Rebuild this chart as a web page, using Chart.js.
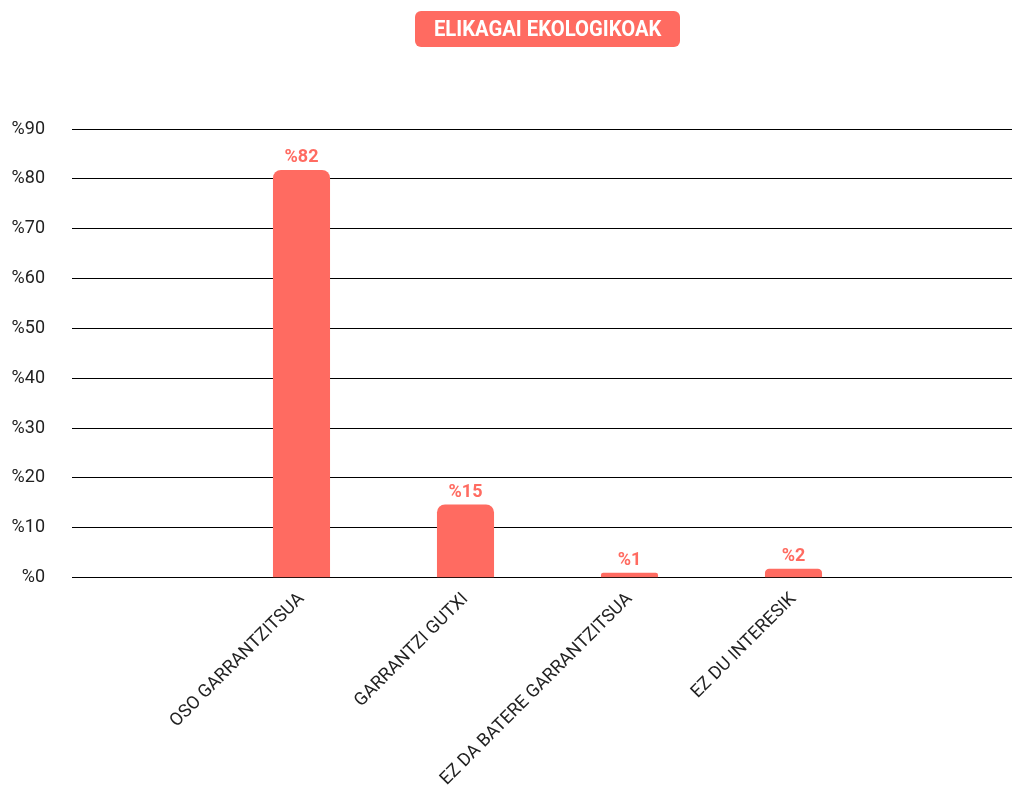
<!DOCTYPE html>
<html>
<head>
<meta charset="utf-8">
<script src="https://cdn.jsdelivr.net/npm/chart.js@4/dist/chart.umd.min.js"></script>
<style>
  body { margin: 0; overflow: hidden; background: #fff; font-family: Roboto, sans-serif; }
  #wrap { position: relative; width: 1012px; height: 793px; }
  #title {
    position: absolute; left: 415px; top: 11px; width: 265px; height: 36px;
    background: #ff6b61; border-radius: 6px; color: #fff;
    font: bold 22px Roboto, sans-serif; line-height: 36px; text-align: center;
  }
  #title span { display: inline-block; transform: scaleX(0.92); white-space: nowrap; }
</style>
</head>
<body>
<div id="wrap">
  <div id="title"><span>ELIKAGAI EKOLOGIKOAK</span></div>
  <canvas id="ecoChart"></canvas>
</div>
<script>
// answers (percent of respondents)
const categories = ['OSO GARRANTZITSUA', 'GARRANTZI GUTXI', 'EZ DA BATERE GARRANTZITSUA', 'EZ DU INTERESIK'];
const values = [81.8, 14.7, 1.0, 1.8];
const yTicks = [0, 10, 20, 30, 40, 50, 60, 70, 80, 90];

const barColor = '#ff6b61';

// value labels above the bars
const valueLabels = {
  id: 'valueLabels',
  afterDatasetsDraw(chart) {
    const ctx = chart.ctx;
    const meta = chart.getDatasetMeta(0);
    ctx.save();
    ctx.fillStyle = barColor;
    ctx.font = 'bold 18px Roboto';
    ctx.textAlign = 'center';
    ctx.textBaseline = 'bottom';
    meta.data.forEach((bar, i) => {
      ctx.fillText('%' + Math.round(values[i]), bar.x, bar.y - 3);
    });
    ctx.restore();
  }
};

const ctx = document.getElementById('ecoChart').getContext('2d');

new Chart(ctx, {
  type: 'bar',
  data: {
    datasets: [{
      data: values.map((v, i) => ({ x: i + 1, y: v })),
      backgroundColor: barColor,
      borderRadius: 8,
      borderSkipped: 'bottom',
      categoryPercentage: 0.8,
      barPercentage: 0.435
    }]
  },
  options: {
    responsive: true,
    maintainAspectRatio: false,
    animation: false,
    layout: { padding: { top: 129, left: 10, right: 0, bottom: 0 } },
    plugins: {
      legend: { display: false },
      title: { display: false },
      tooltip: { enabled: false }
    },
    scales: {
      x: {
        type: 'linear',
        offset: false,
        min: -0.3994,
        max: 5.3323,
        grid: { display: false },
        border: { display: false },
        afterBuildTicks: (scale) => {
          scale.ticks = categories.map((c, i) => ({ value: i + 1 }));
        },
        afterFit: (scale) => {
          // labels sit well inside the axis, no side padding needed
          scale.paddingLeft = 0;
          scale.paddingRight = 0;
          scale.width = scale.maxWidth;
        },
        ticks: {
          autoSkip: false,
          minRotation: 45,
          maxRotation: 45,
          color: '#222',
          font: { family: 'Roboto', size: 18 },
          callback: (v) => categories[v - 1] || ''
        }
      },
      y: {
        min: 0,
        max: 90,
        afterBuildTicks: (scale) => {
          scale.ticks = yTicks.map(v => ({ value: v }));
        },
        afterFit: (scale) => {
          scale.width = 62;
        },
        grid: { color: '#000', drawTicks: false },
        border: { display: false },
        ticks: {
          padding: 27,
          color: '#222',
          font: { family: 'Roboto', size: 18 },
          callback: (v) => '%' + v
        }
      }
    }
  },
  plugins: [valueLabels]
});
</script>
</body>
</html>
